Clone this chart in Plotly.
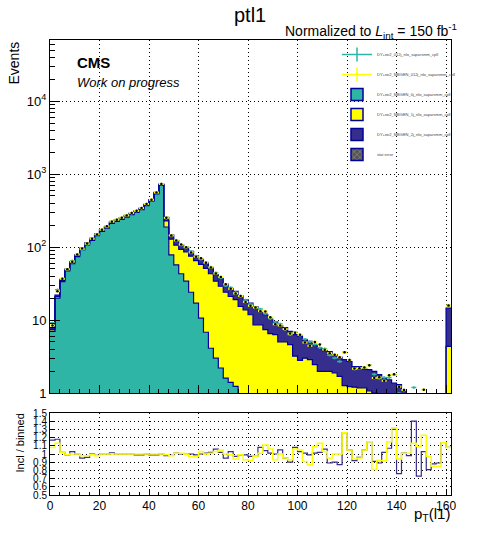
import numpy as np
import plotly.graph_objects as go

# binning of ptl1 (2 GeV bins, last bin 160-162 holds the overflow)
edges = np.arange(0, 164, 2)
centers = edges[:-1] + 1

# stacked MC components (events per bin)
mbgen_0j = [7.0, 20.0, 33.5, 47, 59, 74, 91, 107, 123, 143, 163, 181, 210, 224, 239, 257,
            277, 298, 325, 369, 424, 534, 698, 188, 78, 57, 43, 34, 24, 17, 10.6, 6.8,
            4.1, 3.0, 2.2, 1.6, 1.4, 1.23, 0.6, 0.5, 0.4, 0.3, 0.3, 0.3, 0.2, 0.2, 0.2, 0.2,
            0.2, 0.1, 0.1, 0.1, 0.1, 0.1, 0.1, 0.1, 0.1, 0.1, 0.1, 0.1, 0.1, 0.1, 0.1, 0.1,
            0.1, 0.1, 0.1, 0.1, 0.1, 0.1, 0.1, 0.1, 0.1, 0.1, 0.1, 0.1, 0.1, 0.1, 0.1, 0.1, 0.8]
mbgen_1j = [0.4, 1.0, 1.5, 2, 2.5, 3, 4, 4.5, 5, 6, 7, 7, 8, 8, 8, 9,
            9, 10, 11, 12, 14, 17, 20, 40, 50, 49, 50, 52, 51, 48, 47.4, 44.2,
            38.9, 31, 26.8, 22.4, 19.6, 17.8, 14.7, 13.3, 11.4, 8.3, 8.3, 7.1, 6.3, 6.1, 4.8, 4.8,
            4.4, 3.1, 2.7, 2.9, 2.76, 2.34, 1.88, 1.88, 1.88, 1.78, 1.59, 1.16, 1.12, 1.1, 1.07, 1.07,
            0.97, 0.9, 0.8, 0.75, 0.7, 0.65, 0.6, 0.5, 0.4, 0.4, 0.5, 0.5, 0.45, 0.4, 0.35, 0.3, 3.55]
mbgen_2j = [0.4, 1.0, 1.0, 1, 1.5, 2, 2, 2.5, 3, 3, 3, 4, 4, 5, 5, 5,
            6, 6, 6, 7, 7, 9, 12, 26, 19, 16, 14, 14, 12, 11, 10, 10,
            9, 8, 8, 7, 6, 5.6, 6.2, 5.2, 5.2, 6.7, 4.5, 4.4, 3.8, 3.1, 3.4, 2.9,
            2.4, 3.1, 3.2, 2.4, 2.24, 2.16, 2.12, 1.82, 1.72, 1.47, 1.41, 1.6, 1.48, 1.1, 1.13, 0.96,
            1.02, 0.98, 0.88, 0.75, 0.72, 0.62, 0.6, 0.49, 0.4, 0.35, 0.2, 0.3, 0.3, 0.3, 0.3, 0.3, 10.25]

# ratio panel (Incl / binned)
ratio_navy = [1.17, 1.18, 1.02, 0.99, 1.03, 1.0, 0.95, 0.96, 1.0, 0.985, 1.0, 1.0, 1.015, 1.0, 1.0, 1.0,
              1.0, 0.99, 0.99, 1.0, 0.99, 0.99, 1.0, 0.98, 0.985, 1.01, 1.0, 0.995, 1.0, 0.99, 1.0, 1.01,
              1.02, 1.06, 1.02, 0.95, 1.03, 0.97, 0.99, 0.99, 0.97, 0.97, 1.08, 1.04, 1.01, 1.0, 1.05, 0.95,
              0.9, 1.08, 1.03, 1.01, 0.99, 1.01, 1.02, 1.06, 0.89, 0.9, 0.87, 1.26, 1.05, 0.92, 0.96, 1.05,
              1.15, 0.91, 0.89, 1.02, 1.07, 1.3, 0.76, 1.01, 0.98, 1.4, 0.73, 1.03, 0.81, 0.88, 0.89, 1.14, 1.08]
ratio_yellow = [1.08, 1.13, 1.02, 0.99, 1.0, 1.0, 0.98, 0.98, 0.99, 0.98, 1.0, 1.0, 1.0, 1.0, 1.0, 1.0,
                1.0, 1.0, 1.0, 1.0, 1.0, 1.0, 1.0, 0.99, 0.98, 1.01, 1.01, 0.995, 0.97, 0.97, 1.03, 1.0,
                1.01, 1.03, 1.05, 1.0, 0.99, 0.94, 0.99, 0.93, 0.92, 0.97, 1.01, 1.11, 1.06, 0.93, 1.0, 0.95,
                0.93, 1.06, 1.05, 0.91, 0.87, 1.09, 1.13, 1.03, 0.95, 1.0, 1.0, 1.26, 1.05, 0.94, 0.95, 1.05,
                1.15, 0.81, 0.92, 0.92, 1.15, 1.32, 0.94, 1.01, 1.01, 1.13, 1.09, 1.23, 0.97, 0.85, 0.85, 1.14, 1.08]

names = [
    "DY+ee2_012j_nlo_saparsmm_cpll",
    "DY+ee2_MBGEN_012j_nlo_saparsmm_cpll",
    "DY+ee2_MBGEN_0j_nlo_saparsmm_cpll",
    "DY+ee2_MBGEN_1j_nlo_saparsmm_cpll",
    "DY+ee2_MBGEN_2j_nlo_saparsmm_cpll",
    "stat error",
]

TEAL = "#2eb5a5"
YELLOW = "#ffff00"
NAVY = "#362e8c"
EDGE = "#00009a"
FONT = "Liberation Sans"

c1 = np.array(mbgen_0j)
c2 = c1 + np.array(mbgen_1j)
c3 = c2 + np.array(mbgen_2j)


def steps(v):
    return np.append(v, v[-1])


fig = go.Figure()
fig.add_trace(go.Scatter(x=edges, y=steps(np.full(len(c1), 0.1)), mode="lines", line=dict(width=0, shape="hv"),
                         showlegend=False, hoverinfo="skip"))
for cum, col in [(c1, TEAL), (c2, YELLOW), (c3, NAVY)]:
    fig.add_trace(go.Scatter(x=edges, y=steps(cum), mode="lines", fill="tonexty", fillcolor=col,
                             line=dict(color=EDGE, width=1.2, shape="hv"), showlegend=False))

pts_incl = c3 * np.array(ratio_navy)
pts_bin = c3 * np.array(ratio_yellow)
fig.add_trace(go.Scatter(x=centers, y=pts_incl, mode="markers", showlegend=False,
                         marker=dict(size=1, color=TEAL),
                         error_x=dict(type="constant", value=1, width=0, color=TEAL, thickness=1.5),
                         error_y=dict(type="percent", value=4, width=0, color=TEAL, thickness=1.5)))
fig.add_trace(go.Scatter(x=centers, y=pts_bin, mode="markers", showlegend=False,
                         marker=dict(size=2.5, color="black"),
                         error_x=dict(type="constant", value=1, width=0, color=YELLOW, thickness=2),
                         error_y=dict(type="percent", value=4, width=0, color=YELLOW, thickness=1.5)))

# ratio panel
fig.add_trace(go.Scatter(x=edges, y=steps(np.array(ratio_navy)), mode="lines", xaxis="x2", yaxis="y2",
                         line=dict(color=NAVY, width=1.2, shape="hv"), showlegend=False))
fig.add_trace(go.Scatter(x=edges, y=steps(np.array(ratio_yellow)), mode="lines", xaxis="x2", yaxis="y2",
                         line=dict(color=YELLOW, width=1.5, shape="hv"), showlegend=False))

# legend entries
for i, (nm, col) in enumerate(zip(names[:2], [TEAL, YELLOW])):
    fig.add_trace(go.Scatter(x=[None], y=[None], mode="lines+markers", name=nm, legendgroup=f"g{i}",
                             line=dict(color=col, width=1.5),
                             marker=dict(symbol="line-ns-open", size=10, color=col, line=dict(color=col, width=1.5))))
for i, (nm, col) in enumerate(zip(names[2:5], [TEAL, YELLOW, NAVY])):
    fig.add_trace(go.Bar(x=[None], y=[None], name=nm, legendgroup=f"h{i}",
                         marker=dict(color=col, line=dict(color=EDGE, width=1.5))))
fig.add_trace(go.Bar(x=[None], y=[None], name=names[5], legendgroup="s",
                     marker=dict(color="#555555", pattern=dict(shape="x", fgcolor="white", bgcolor="#555555", size=5),
                                 line=dict(color=EDGE, width=1.5))))

dec_ticks = [1, 10, 100, 1000, 10000]
dec_text = ["1", "10", "10<sup>2</sup>", "10<sup>3</sup>", "10<sup>4</sup>"]
minor_vals = [m * d for d in [1, 10, 100, 1000, 10000] for m in range(2, 10)]

axis_common = dict(showline=True, linecolor="black", linewidth=1, mirror=True, ticks="inside",
                   tickcolor="black", gridcolor="black", griddash="1px,3px", gridwidth=1, zeroline=False,
                   automargin=False)

fig.update_layout(
    width=502, height=536,
    margin=dict(l=0, r=0, t=0, b=0, autoexpand=False),
    paper_bgcolor="white", plot_bgcolor="white",
    font=dict(family=FONT, color="black"),
    xaxis=dict(domain=[50 / 502, 451 / 502], range=[0, 162], anchor="y", tickvals=list(range(0, 161, 20)),
               showticklabels=False, ticklen=8,
               minor=dict(ticks="inside", ticklen=4, dtick=4, tickcolor="black"), **axis_common),
    yaxis=dict(domain=[(536 - 393) / 536, (536 - 40) / 536], type="log", range=[0, 4.836], anchor="x",
               tickvals=dec_ticks, ticktext=dec_text, ticklen=10, tickfont=dict(size=13),
               minor=dict(ticks="inside", ticklen=5, tickvals=minor_vals, tickcolor="black"), **axis_common),
    xaxis2=dict(domain=[50 / 502, 451 / 502], range=[0, 162], anchor="y2", tickvals=list(range(0, 161, 20)),
                ticklen=6, tickfont=dict(size=12),
                minor=dict(ticks="inside", ticklen=3, dtick=4, tickcolor="black"), **axis_common),
    yaxis2=dict(domain=[(536 - 495) / 536, (536 - 413) / 536], range=[0.5, 1.5], anchor="x2",
                tickvals=[round(0.5 + 0.1 * k, 1) for k in range(11)], ticklen=5, tickfont=dict(size=10),
                **axis_common),
    showlegend=True,
    legend=dict(x=337 / 502, y=1 - 40 / 536, xanchor="left", yanchor="top", bgcolor="rgba(0,0,0,0)",
                font=dict(size=4, color="#444444"), traceorder="grouped", tracegroupgap=1,
                itemwidth=30),
    annotations=[
        dict(text="ptl1", x=250 / 502, y=1 - 15 / 536, xref="paper", yref="paper", showarrow=False,
             font=dict(size=20), xanchor="center", yanchor="middle"),
        dict(text="Normalized to <i>L</i><sub>int</sub> = 150 fb<sup>-1</sup>", x=459 / 502, y=1 - 31 / 536,
             xref="paper", yref="paper", showarrow=False, font=dict(size=14), xanchor="right", yanchor="middle"),
        dict(text="<b>CMS</b>", x=75 / 502, y=1 - 63 / 536, xref="paper", yref="paper", showarrow=False,
             font=dict(size=15), xanchor="left", yanchor="middle"),
        dict(text="<i>Work on progress</i>", x=75 / 502, y=1 - 83 / 536, xref="paper", yref="paper",
             showarrow=False, font=dict(size=13), xanchor="left", yanchor="middle"),
        dict(text="Events", x=13 / 502, y=1 - 40 / 536, xref="paper", yref="paper", showarrow=False,
             textangle=-90, font=dict(size=14), xanchor="center", yanchor="top"),
        dict(text="Incl / binned", x=19 / 502, y=1 - 412 / 536, xref="paper", yref="paper", showarrow=False,
             textangle=-90, font=dict(size=11), xanchor="center", yanchor="top"),
        dict(text="p<sub>T</sub>(l1)", x=452 / 502, y=1 - 514 / 536, xref="paper", yref="paper",
             showarrow=False, font=dict(size=15), xanchor="right", yanchor="middle"),
    ],
)

fig.write_html("out.html", config={"displayModeBar": False},
               post_script="document.body.style.margin = '0';")
